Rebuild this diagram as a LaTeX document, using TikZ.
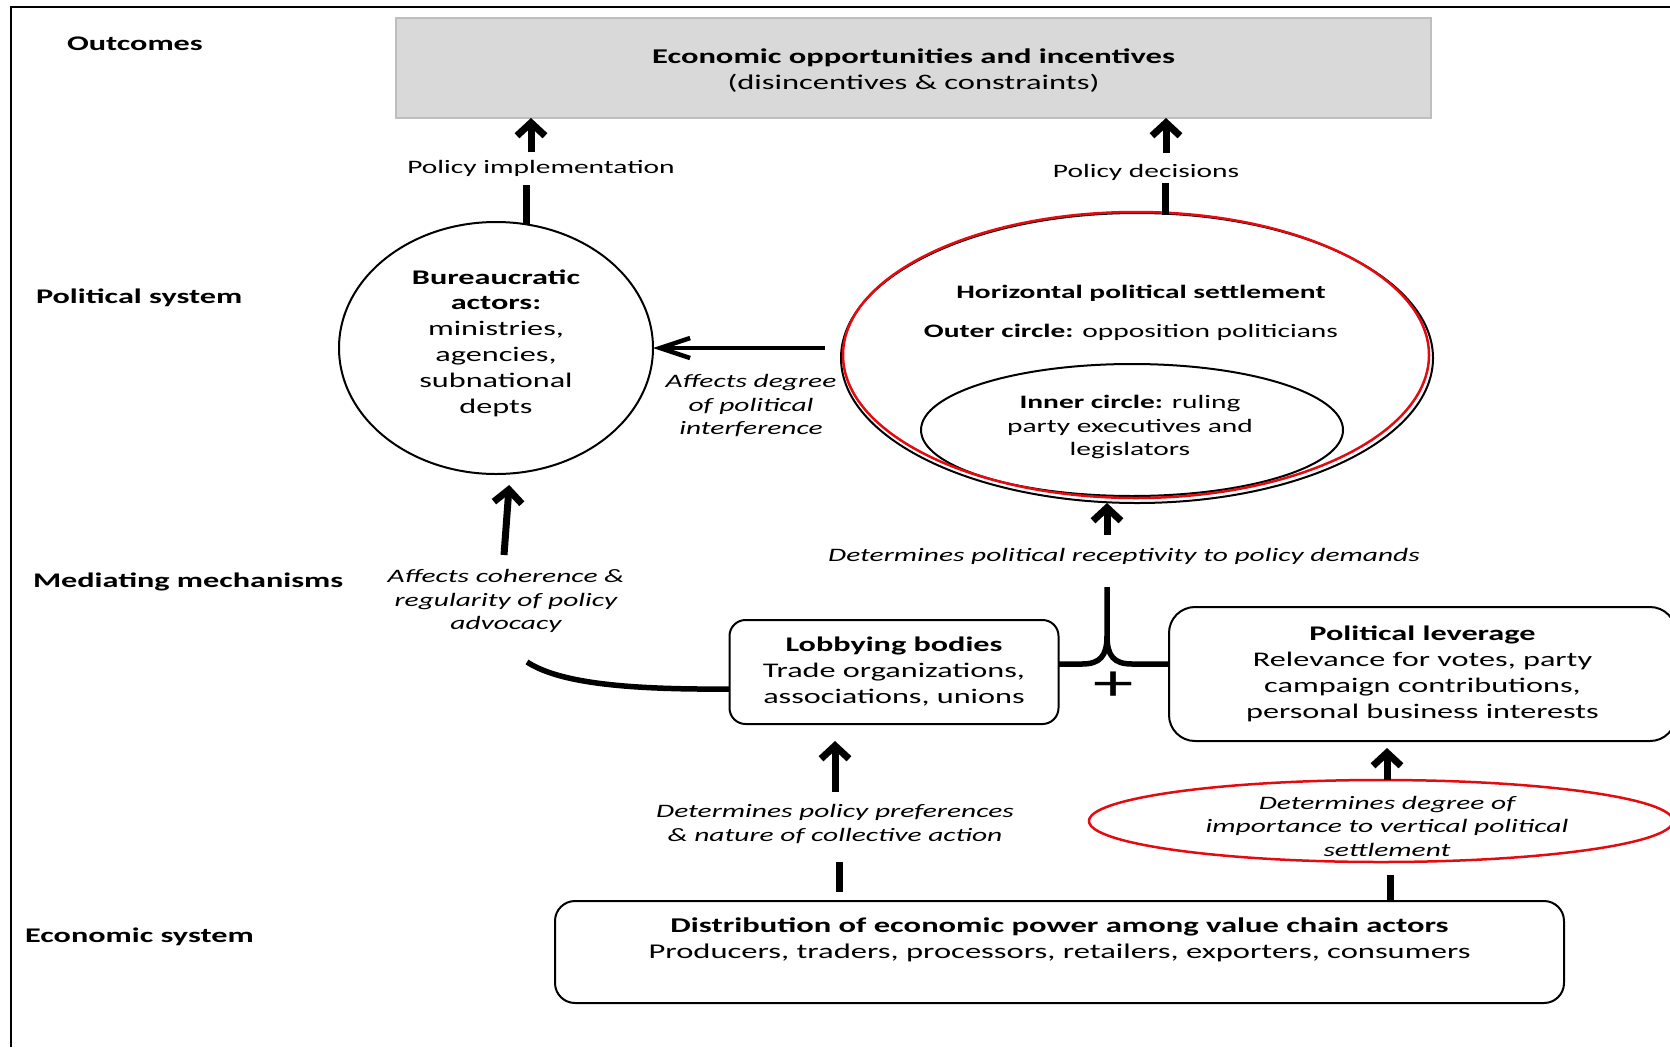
\documentclass[tikz,border=0pt]{standalone}
\usepackage{fontspec}
\setmainfont{Carlito}[FakeStretch=1.55]
\usetikzlibrary{arrows.meta,shapes.geometric}

\definecolor{boxgray}{RGB}{217,217,217}
\definecolor{boxedge}{RGB}{190,190,190}
\definecolor{markred}{RGB}{228,10,16}

\tikzset{
  every node/.style={inner sep=0pt, outer sep=0pt},
  body/.style={font=\fontsize{20.8}{26}\selectfont, align=center},
  bodyb/.style={font=\fontsize{20.8}{25.8}\selectfont, align=center},
  inset/.style={font=\fontsize{19}{23.5}\selectfont, align=center},
  note/.style={font=\fontsize{19}{23.5}\selectfont\itshape, align=center},
  section/.style={font=\fontsize{20.8}{26}\selectfont\bfseries, anchor=base west},
  roundbox/.style={draw, line width=2pt, rounded corners=#1},
  oval/.style={draw, ellipse, line width=2pt},
  redoval/.style={draw=markred, ellipse, line width=2.5pt},
  uparrow/.style={line width=7pt, -{Straight Barb[length=13pt,width=28pt]}},
  sidearrow/.style={line width=4.5pt, -{Straight Barb[length=30pt,width=20pt]}},
  stem/.style={line width=7pt},
  link/.style={line width=5.5pt},
}

\begin{document}
\begin{tikzpicture}[x=1pt, y=-1pt]
\useasboundingbox (0,0) rectangle (1670,1047);
\clip (0,0) rectangle (1670,1047);

% frame
\draw[line width=2pt] (11,1047) -- (11,7);
\draw[line width=2.5pt] (10,7) -- (1670,7);

% row headings
\node[section] (hOut) at (67,50.5) {Outcomes};
\node[section] (hPol) at (36,303) {Political system};
\node[section] (hMed) at (33,587) {Mediating mechanisms};
\node[section] (hEco) at (25,942) {Economic system};

% outcomes
\node[draw=boxedge, fill=boxgray, line width=2pt,
      minimum width=1035pt, minimum height=100pt] (outc) at (913.5,68) {};
\node[body, font=\fontsize{21}{26}\selectfont] (outctxt) at (913.5,71)
  {\textbf{Economic opportunities and incentives}\\(disincentives \& constraints)};

% political system
\node[oval, minimum width=314pt, minimum height=252pt] (bur) at (496,348) {};
\node[bodyb] (burtxt) at (496,343)
  {\textbf{Bureaucratic}\\\textbf{actors:}\\ministries,\\agencies,\\subnational\\depts};

\node[oval, minimum width=592pt, minimum height=290pt] (hps) at (1137,358) {};
\node[oval, minimum width=422pt, minimum height=132pt] (inner) at (1132,430) {};
\node[redoval, minimum width=586pt, minimum height=286pt] (hpsred) at (1136,355) {};
\node[inset, font=\fontsize{19}{23.5}\selectfont\bfseries] (hpstitle) at (1141,293)
  {Horizontal political settlement};
\node[inset] (outer) at (1131,332) {\textbf{Outer circle:} opposition politicians};
\node[inset] (innertxt) at (1130,427)
  {\textbf{Inner circle:} ruling\\party executives and\\legislators};

% policy arrows to outcomes
\node[inset] (pimpl) at (541,168) {Policy implementation};
\node[inset] (pdec) at (1146,172) {Policy decisions};
\coordinate (pi1) at (531,152);
\coordinate (pi0) at (526,185);
\coordinate (pd1) at (1166,153);
\coordinate (pd0) at (1165,183);
\draw[uparrow] (pi1) -- (pi1 |- outc.south);
\draw[stem, shorten >=-3pt] (pi0) -- (pi0 |- bur.north);
\draw[uparrow] (pd1) -- (pd1 |- outc.south);
\draw[stem, shorten >=-2pt] (pd0) -- (pd0 |- hps.north);

% interference
\coordinate (ha) at (825,348);
\draw[sidearrow] (ha) -- (bur.east);
\node[note] (interf) at (751,406) {Affects degree\\of political\\interference};

% mediating mechanisms
\node[body, roundbox=16pt, minimum width=329pt, minimum height=104pt] (lob) at (894,672)
  {\textbf{Lobbying bodies}\\Trade organizations,\\associations, unions};
\node[body, roundbox=26pt, minimum width=507pt, minimum height=134pt] (plev) at (1422.5,674)
  {\textbf{Political leverage}\\Relevance for votes, party\\campaign contributions,\\personal business interests};

\coordinate (ba) at (504,555);
\draw[uparrow, shorten >=11pt] (ba) -- ([xshift=14pt]bur.south);
\node[note] (coher) at (506,601) {Affects coherence \&\\regularity of policy\\advocacy};
\coordinate (cend) at (527,662);
\draw[link] ([yshift=-17pt]lob.west) .. controls (610,690) and (555,680) .. (cend);

% joining bracket
\coordinate (cusp) at (1107,587);
\draw[link] ([yshift=8pt]lob.east) -- (1082,664) .. controls (1100,664) and (1107,656) .. (1107,636) -- (cusp);
\draw[link] ([yshift=10pt]plev.west) -- (1132,664) .. controls (1114,664) and (1107,656) .. (1107,636);
\node[font=\fontsize{52}{52}\selectfont] (plus) at (1114,686) {+};

\coordinate (ra) at (1107,535);
\draw[uparrow] (ra) -- (ra |- hps.south);
\node[note] (recept) at (1124,556) {Determines political receptivity to policy demands};

% economic system
\node[roundbox=20pt, minimum width=1009pt, minimum height=102pt] (econ) at (1059.5,952) {};
\node[body, font=\fontsize{21}{26}\selectfont] (econtxt) at (1059.5,940)
  {\textbf{Distribution of economic power among value chain actors}\\Producers, traders, processors, retailers, exporters, consumers};

\coordinate (la) at (835,792);
\draw[uparrow, shorten >=17pt] (la) -- (la |- lob.south);
\node[note] (pref) at (835,824) {Determines policy preferences\\\& nature of collective action};
\coordinate (ls) at (839,862);
\draw[stem, shorten >=9pt] (ls) -- (ls |- econ.north);

\node[redoval, minimum width=584pt, minimum height=82pt] (vert) at (1381,821) {};
\node[note] (verttxt) at (1387,826)
  {Determines degree of\\importance to vertical political\\settlement};
\coordinate (pa) at (1387,780);
\draw[uparrow, shorten >=7pt] (pa) -- (pa |- plev.south);
\coordinate (rs) at (1390,875);
\draw[stem] (rs) -- (rs |- econ.north);
\end{tikzpicture}
\end{document}
